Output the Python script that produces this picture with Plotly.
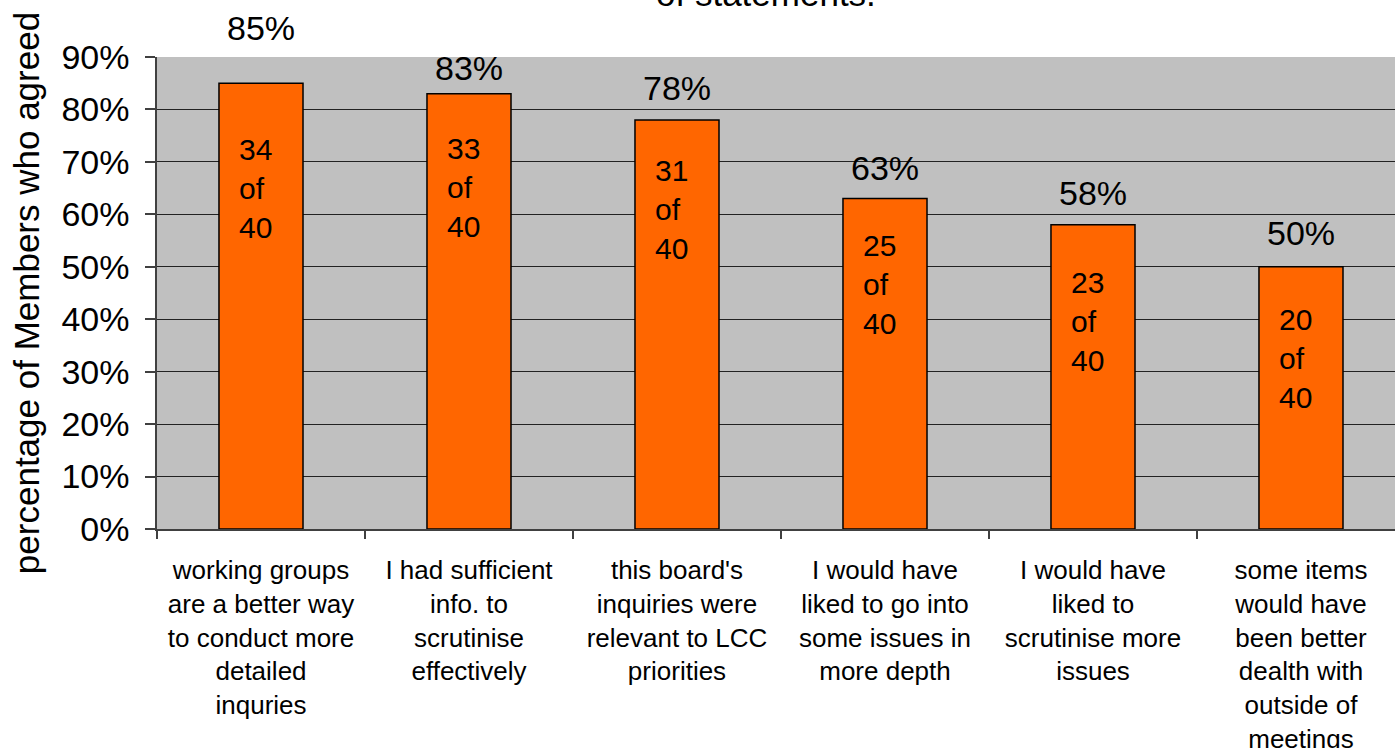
import plotly.graph_objects as go

# Survey statements (category axis), share of members agreeing, and raw counts
statements = [
    "working groups<br>are a better way<br>to conduct more<br>detailed<br>inquries",
    "I had sufficient<br>info. to<br>scrutinise<br>effectively",
    "this board's<br>inquiries were<br>relevant to LCC<br>priorities",
    "I would have<br>liked to go into<br>some issues in<br>more depth",
    "I would have<br>liked to<br>scrutinise more<br>issues",
    "some items<br>would have<br>been better<br>dealth with<br>outside of<br>meetings",
]
pct_agreed = [85, 83, 78, 63, 58, 50]
n_agreed = [34, 33, 31, 25, 23, 20]
n_members = 40
y_ticks = [0, 10, 20, 30, 40, 50, 60, 70, 80, 90]

FONT = "Liberation Sans, Arial, sans-serif"

fig = go.Figure()
fig.add_trace(go.Bar(
    x=statements,
    y=pct_agreed,
    width=0.404,
    marker=dict(color="#FF6600", line=dict(color="#000000", width=1.5)),
    hoverinfo="skip",
))

# vertical offsets (px) of the percentage labels above each bar
pct_label_shift = [55, 26, 32, 31, 32, 34]
# vertical offsets (px) of the "n of 40" block below each bar top
count_label_shift = [-105, -94, -90, -86, -97, -92]

for i, (p, n) in enumerate(zip(pct_agreed, n_agreed)):
    fig.add_annotation(
        x=statements[i], y=p, xref="x", yref="y",
        text=f"{p}%", showarrow=False,
        yanchor="middle", yshift=pct_label_shift[i],
        font=dict(family=FONT, size=34, color="#000000"),
    )
    fig.add_annotation(
        x=statements[i], y=p, xref="x", yref="y",
        text=f"{n}<br>of<br>{n_members}", showarrow=False,
        align="left", xanchor="left", xshift=-24,
        yanchor="middle", yshift=count_label_shift[i],
        font=dict(family=FONT, size=30, color="#000000"),
    )

# chart title (runs off the top edge of the page)
fig.add_annotation(
    x=0.492, y=1.089, xref="paper", yref="paper",
    text="of statements.", showarrow=False,
    xanchor="center", yanchor="bottom",
    font=dict(family=FONT, size=35, color="#000000"),
)

fig.update_layout(
    width=1395, height=748,
    margin=dict(l=157, r=0, t=57, b=219),
    paper_bgcolor="#FFFFFF",
    plot_bgcolor="#C0C0C0",
    showlegend=False,
    font=dict(family=FONT, color="#000000"),
)

fig.update_xaxes(
    type="category",
    range=[-0.5, 5.452],
    automargin=False,
    tickfont=dict(family=FONT, size=26, color="#000000"),
    tickson="boundaries",
    ticks="outside", ticklen=8, tickcolor="#404040", tickwidth=1.5,
    ticklabelstandoff=17,
    showgrid=False,
    zeroline=False,
    showline=True, linecolor="#404040", linewidth=1.5,
)

fig.update_yaxes(
    range=[0, 90],
    automargin=False,
    tickmode="array",
    tickvals=y_ticks,
    ticktext=[f"{v}%" for v in y_ticks],
    tickfont=dict(family=FONT, size=34, color="#000000"),
    ticks="outside", ticklen=10, tickcolor="#404040", tickwidth=1.5,
    ticklabelstandoff=9,
    showgrid=True, gridcolor="#222222", gridwidth=1,
    zeroline=False,
    showline=True, linecolor="#404040", linewidth=1.5,
    title=dict(text="percentage of Members who agreed",
               font=dict(family=FONT, size=35, color="#000000"),
               standoff=11),
)

fig.write_html("out.html")
